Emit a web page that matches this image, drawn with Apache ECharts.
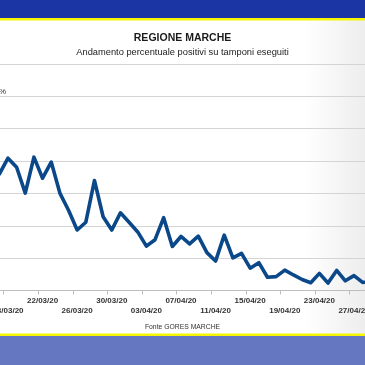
<!DOCTYPE html>
<html>
<head>
<meta charset="utf-8">
<script src="https://cdn.jsdelivr.net/npm/echarts@6/dist/echarts.min.js"></script>
<style>
html,body{margin:0;padding:0;background:#fff;}
#c{width:365px;height:365px;}
</style>
</head>
<body>
<div id="c"></div>
<script>
const titleText = 'REGIONE MARCHE';
const subtitleText = 'Andamento percentuale positivi su tamponi eseguiti';
const sourceText = 'Fonte GORES MARCHE';
const dates = ['17/03/20','18/03/20','19/03/20','20/03/20','21/03/20','22/03/20','23/03/20','24/03/20','25/03/20','26/03/20','27/03/20','28/03/20','29/03/20','30/03/20','31/03/20','01/04/20','02/04/20','03/04/20','04/04/20','05/04/20','06/04/20','07/04/20','08/04/20','09/04/20','10/04/20','11/04/20','12/04/20','13/04/20','14/04/20','15/04/20','16/04/20','17/04/20','18/04/20','19/04/20','20/04/20','21/04/20','22/04/20','23/04/20','24/04/20','25/04/20','26/04/20','27/04/20','28/04/20','29/04/20'];
const positivePct = [36.0,40.9,38.1,30.1,41.2,34.7,39.7,30.1,24.8,18.7,21.1,34.0,22.8,18.7,24.0,21.1,18.1,13.7,15.7,22.5,13.6,16.7,14.4,16.8,11.7,9.1,17.1,10.1,11.5,6.9,8.6,4.1,4.3,6.3,4.8,3.4,2.4,5.3,2.3,6.2,3.0,4.6,2.5,2.6];
const yMin = 0, yMax = 70, yStep = 10;

const chart = echarts.init(document.getElementById('c'), null, {renderer:'canvas'});
const band = 8.65;
const gridLeft = -5;
const gridWidth = band * dates.length;
const FONT = '"Liberation Sans", Arial, sans-serif';
chart.setOption({
  animation:false,
  backgroundColor:'#ffffff',
  graphic:[
    {type:'rect', z:0, shape:{x:305,y:20,width:60,height:314}, style:{fill:new echarts.graphic.LinearGradient(0,0,1,0,[{offset:0,color:'rgba(0,0,0,0)'},{offset:1,color:'rgba(0,0,0,0.07)'}])}},
    {type:'rect', z:10, shape:{x:0,y:0,width:365,height:18}, style:{fill:'#1b35a4'}},
    {type:'rect', z:10, shape:{x:0,y:18,width:365,height:2.5}, style:{fill:'#f6f500'}},
    {type:'rect', z:10, shape:{x:0,y:333.5,width:365,height:2.5}, style:{fill:'#f6f500'}},
    {type:'rect', z:10, shape:{x:0,y:336,width:365,height:29}, style:{fill:'#6577c0'}},
    {type:'text', z:10, left:'center', top:32.5, style:{text:titleText, font:'bold 10.5px '+FONT, fill:'#1a1a1a'}},
    {type:'text', z:10, left:'center', top:48, style:{text:subtitleText, font:'9.3px '+FONT, fill:'#1a1a1a'}},
    {type:'text', z:10, left:'center', top:324, style:{text:sourceText, font:'6.8px '+FONT, fill:'#333'}},
    {type:'text', z:10, left:-1, top:88, style:{text:'%', font:'8px '+FONT, fill:'#333'}}
  ],
  grid:{left:gridLeft, width:gridWidth, top:64, bottom:74.5, outerBoundsMode:'none', containLabel:false},
  xAxis:{
    type:'category', data:dates, boundaryGap:true,
    axisLine:{show:true, lineStyle:{color:'#bdbdbd', width:1}},
    axisTick:{show:true, length:4, interval:(i)=> (i-1)%4===0, lineStyle:{color:'#bdbdbd'}},
    axisLabel:{
      interval:(i)=> (i-1)%4===0,
      margin:5,
      fontFamily:FONT, fontWeight:'bold', fontSize:8, color:'#333', lineHeight:10,
      formatter:(v,i)=> ((i-1)%8===0 ? '\n'+v : v)
    },
    splitLine:{show:false}
  },
  yAxis:{
    type:'value', min:yMin, max:yMax, interval:yStep,
    axisLabel:{show:false}, axisLine:{show:false}, axisTick:{show:false},
    splitLine:{show:true, lineStyle:{color:'#d4d4d4', width:1.2}}
  },
  series:[{
    type:'line', data:positivePct, symbol:'none', smooth:false,
    lineStyle:{color:'#0a4889', width:3.6, join:'round', cap:'round'},
    z:5
  }]
});
</script>
</body>
</html>
